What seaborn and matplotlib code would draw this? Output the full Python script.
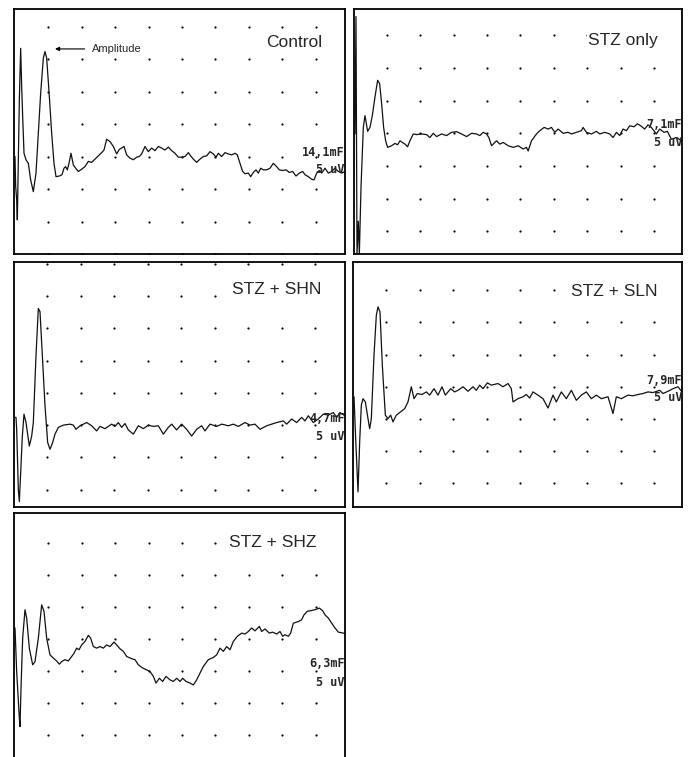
import numpy as np
import seaborn as sns
import matplotlib.pyplot as plt

# === Traces: time (ms) vs amplitude (grid divisions, 5 uV / div) ===
t_control = [0.25, 0.75, 1.5, 2.0, 2.75, 3.5, 4.5, 5.25, 6.0, 7.0, 8.5, 10.25, 12.0, 14.0, 16.0, 17.75, 19.5, 21.5,
             22.75, 24.0, 26.0, 27.75, 29.5, 31.0, 33.5, 35.5, 37.0, 38.25, 39.5, 40.75, 42.25, 44.0, 45.75, 47.75,
             50.25, 52.75, 55.25, 57.75, 60.25, 62.75, 65.25, 67.0, 69.0, 71.5, 74.0, 76.5, 78.5, 80.25, 82.0, 84.0,
             86.5, 89.0, 91.5, 93.5, 95.25, 97.75, 100.25, 102.75, 105.25, 107.75, 110.25, 112.75, 115.25, 117.75,
             120.25, 122.75, 125.25, 127.75, 130.25, 132.0, 134.0, 136.5, 139.0, 141.5, 144.0, 146.5, 149.0, 151.0,
             152.75, 155.25, 157.75, 160.25, 162.75, 165.25, 167.0, 169.0, 171.0, 172.75, 175.25, 177.0, 179.0,
             181.0, 182.75, 184.5, 186.5, 189.0, 191.5, 194.0, 196.0, 198.5, 201.0, 203.5, 206.0, 208.5, 211.0,
             213.5, 216.0, 217.75, 220.25, 222.75, 224.5, 226.5, 228.5, 230.25, 232.75, 235.25, 237.75, 240.25,
             242.75, 245.25, 247.75]
v_control = [3.00, 2.08, 1.67, 1.05, 2.90, 4.74, 6.33, 5.15, 4.23, 3.10, 2.90, 2.79, 2.28, 1.92, 2.49, 3.72, 4.95,
             6.03, 6.23, 6.03, 4.85, 3.72, 2.79, 2.38, 2.40, 2.44, 2.64, 2.69, 2.59, 2.79, 3.10, 2.74, 2.64, 2.54,
             2.61, 2.69, 2.85, 2.82, 2.92, 3.02, 3.12, 3.20, 3.53, 3.46, 3.31, 3.08, 3.22, 3.26, 3.31, 3.05, 2.95,
             2.90, 2.98, 3.00, 3.08, 3.31, 3.15, 3.26, 3.18, 3.31, 3.26, 3.20, 3.29, 3.18, 3.10, 2.98, 2.98, 3.00,
             3.12, 3.02, 2.92, 2.82, 2.92, 3.00, 3.02, 3.15, 3.08, 2.98, 3.10, 3.00, 3.12, 3.08, 3.05, 3.10, 3.05,
             2.79, 2.54, 2.47, 2.49, 2.38, 2.51, 2.59, 2.49, 2.64, 2.59, 2.59, 2.64, 2.79, 2.71, 2.59, 2.57, 2.59,
             2.51, 2.54, 2.40, 2.49, 2.54, 2.44, 2.38, 2.30, 2.28, 2.49, 2.57, 2.49, 2.64, 2.49, 2.54, 2.64, 2.54,
             2.49, 2.54]

t_stz = [1.25, 2.0, 2.75, 3.75, 4.5, 5.75, 7.5, 8.75, 10.75, 12.5, 14.25, 16.25, 18.25, 19.75, 21.25, 22.75, 24.25,
         25.75, 28.75, 31.25, 33.25, 35.0, 38.75, 40.75, 42.5, 45.0, 47.5, 51.25, 55.0, 57.5, 60.0, 62.5, 66.25,
         70.0, 73.75, 77.5, 81.25, 85.0, 88.75, 92.5, 95.0, 97.5, 100.0, 101.75, 103.75, 107.5, 110.0, 112.5,
         116.25, 120.0, 123.75, 127.5, 130.0, 131.25, 133.75, 137.5, 140.0, 143.25, 146.25, 148.75, 151.25, 153.75,
         157.5, 161.25, 163.75, 167.5, 171.25, 172.5, 175.0, 178.75, 182.5, 185.0, 188.75, 192.5, 195.0, 197.5,
         200.0, 202.5, 205.0, 207.5, 210.75, 213.25, 215.75, 218.75, 221.25, 223.75, 227.5, 230.0, 233.25, 235.75,
         238.75, 242.5, 246.75]
v_stz = [3.98, 7.57, 0.29, 1.31, 0.29, 2.34, 4.18, 4.54, 4.06, 4.18, 4.54, 5.11, 5.62, 5.52, 4.90, 4.18, 3.77, 3.57,
         3.62, 3.69, 3.65, 3.77, 3.67, 3.59, 3.77, 3.98, 3.96, 3.98, 3.96, 3.87, 4.00, 3.90, 3.98, 3.93, 4.03, 4.05,
         3.98, 3.90, 4.00, 3.98, 3.93, 4.03, 3.98, 3.87, 3.62, 3.77, 3.67, 3.72, 3.62, 3.57, 3.62, 3.52, 3.57, 3.46,
         3.77, 3.98, 4.08, 4.18, 4.13, 4.18, 4.03, 4.13, 4.00, 4.03, 3.98, 4.03, 4.08, 4.18, 4.03, 3.98, 4.06, 3.98,
         4.03, 3.98, 3.87, 4.03, 3.93, 4.13, 4.08, 4.23, 4.20, 4.29, 4.23, 4.13, 4.26, 4.18, 3.98, 4.13, 4.03, 4.06,
         3.82, 3.87, 3.77]

t_shn = [0, 1.5, 2, 3.25, 4, 5, 6.25, 7.5, 9, 11.5, 13.25, 14.5, 16.5, 18.25, 19.5, 21.25, 23.25, 25.25, 27, 29,
         30.75, 33.25, 37, 42, 44.5, 46.5, 49.5, 54.5, 58.25, 62, 64.5, 68.25, 73.25, 75.75, 78.25, 80.75, 83.25,
         85.75, 89.5, 93.25, 97, 100.75, 104.5, 108.25, 112, 115.75, 118.25, 122, 125.75, 129.5, 133.25, 137,
         140.75, 143.25, 147, 152, 155.75, 160.75, 164.5, 168.25, 173.25, 177, 180.75, 184.5, 189.5, 193.25, 197,
         202, 204.5, 208.25, 212, 215.75, 218.25, 220.75, 224.5, 228.25, 232, 235.75, 239.5, 242, 244.5, 248.25]
v_shn = [3.24, 3.24, 2.87, 1.00, 0.63, 1.52, 2.66, 3.34, 3.08, 2.35, 2.66, 3.08, 5.16, 6.62, 6.52, 5.16, 3.60, 2.46,
         2.25, 2.46, 2.72, 2.93, 3.00, 3.03, 3.00, 2.87, 2.98, 3.08, 2.98, 2.82, 2.96, 2.89, 3.03, 2.96, 3.08, 2.93,
         3.05, 2.85, 2.72, 2.98, 2.89, 3.00, 2.96, 2.98, 2.72, 2.93, 3.03, 2.85, 3.03, 2.87, 2.66, 2.87, 2.98, 2.82,
         3.03, 2.96, 3.03, 2.98, 3.03, 2.96, 3.08, 3.00, 3.03, 2.87, 2.98, 3.03, 3.08, 3.13, 3.03, 3.19, 3.08, 3.24,
         3.13, 3.29, 3.08, 3.19, 3.34, 3.31, 3.39, 3.24, 3.39, 3.29]

t_sln = [0.75, 2, 3.75, 5, 6.25, 7.5, 9.25, 11.25, 12.5, 13.75, 15.75, 17.5, 18.75, 20.25, 22, 24.25, 26.25, 28.25,
         30, 32.5, 36.25, 38.75, 41.25, 43.75, 45.75, 48.25, 51.75, 55, 57.5, 60.75, 63.75, 66.75, 69.25, 73.25,
         76.25, 78.75, 82.5, 86.25, 90, 92.5, 95, 97.5, 100.75, 103.75, 108.75, 112.5, 116.25, 118.75, 120, 123.75,
         127.5, 130, 132.5, 135, 138.75, 142.5, 146.25, 150, 152.5, 156.25, 160, 163.75, 167.5, 171.25, 175, 178.75,
         182.5, 186.25, 191.25, 195, 197.5, 201.25, 206.25, 210, 213.75, 217.5, 221.25, 225, 230, 232.5, 236.25,
         240, 243.75, 246.75]
v_sln = [3.69, 2.39, 0.74, 2.29, 3.43, 3.63, 3.53, 3.01, 2.70, 3.01, 4.98, 6.22, 6.48, 6.32, 4.67, 3.12, 3.01, 3.12,
         2.91, 3.12, 3.24, 3.32, 3.53, 4.00, 3.63, 3.79, 3.76, 3.84, 3.74, 3.94, 3.74, 4.00, 3.74, 3.94, 3.84, 3.89,
         4.00, 3.86, 4.00, 3.89, 4.05, 3.94, 4.12, 4.05, 4.10, 4.00, 4.10, 3.94, 3.53, 3.63, 3.69, 3.76, 3.65, 3.84,
         3.74, 3.63, 3.34, 3.74, 3.53, 3.84, 3.63, 3.89, 3.58, 3.74, 3.84, 3.63, 3.74, 3.63, 3.69, 3.17, 3.69, 3.63,
         3.74, 3.72, 3.76, 3.79, 3.84, 3.82, 3.89, 3.79, 3.86, 3.94, 4.00, 3.84]

t_shz = [0.25, 1.5, 3.5, 4, 4.75, 6, 7.75, 9, 11, 13.5, 15.25, 17.75, 20.25, 22, 24, 26.5, 29, 31.5, 33.5, 35.25,
         37.75, 40.25, 42.75, 44.5, 46.5, 48.25, 50.25, 52.75, 55.25, 57, 59, 61.5, 64, 66.5, 69, 71.5, 74.5, 76.5,
         79, 81.5, 84, 87.75, 90.25, 92.75, 96, 99, 101.5, 104, 106, 108.5, 111, 113.5, 116.5, 119, 121.5, 124, 126,
         128.5, 131.5, 134, 136.5, 139, 141.5, 145.25, 149, 151.5, 154, 156.5, 159, 161.5, 164, 167, 170.25, 172.75,
         175.25, 177.75, 180.25, 183.5, 185.25, 187.75, 191, 193.5, 196.5, 199, 201, 202.75, 205.25, 207, 209,
         212.75, 215.25, 217, 219.5, 222, 225.25, 228.5, 231, 232.75, 235.25, 237.75, 240.25, 242.75, 246.5, 249]
v_shz = [4.34, 2.98, 1.52, 1.26, 2.46, 4.02, 4.91, 4.65, 3.71, 3.19, 3.29, 4.02, 5.06, 4.86, 4.02, 3.50, 3.40, 3.31,
         3.21, 3.29, 3.35, 3.31, 3.45, 3.55, 3.71, 3.66, 3.81, 3.92, 4.11, 4.02, 3.76, 3.71, 3.76, 3.71, 3.81, 3.76,
         3.90, 3.81, 3.69, 3.61, 3.45, 3.38, 3.35, 3.19, 3.09, 3.03, 2.98, 2.83, 2.62, 2.77, 2.67, 2.83, 2.72, 2.67,
         2.77, 2.67, 2.77, 2.67, 2.62, 2.56, 2.72, 2.93, 3.14, 3.35, 3.42, 3.50, 3.71, 3.61, 3.76, 3.66, 3.92, 4.08,
         4.18, 4.15, 4.23, 4.34, 4.25, 4.39, 4.23, 4.31, 4.18, 4.21, 4.15, 4.23, 4.08, 4.13, 4.08, 4.18, 4.49, 4.54,
         4.60, 4.75, 4.86, 4.88, 4.91, 4.96, 4.88, 4.75, 4.65, 4.49, 4.34, 4.21, 4.18, 4.18]

labels = ["Control", "STZ only", "STZ + SHN", "STZ + SLN", "STZ + SHZ"]
sweeps = ["14,1mF", "7,1mF", "4,7mF", "7,9mF", "6,3mF"]
gain = "5 uV"

# === Layout (pixel boxes of the original prints) ===
W, H = 689, 757
DIV_MS = 25.1
panels = [
    dict(t=t_control, v=v_control, box=(14, 9, 345, 254), xlim=(-0.5, 247.75), ylim=(0.0, 7.54),
         lab=(0.930, 0.865), sw=(0.416, 0.343)),
    dict(t=t_stz, v=v_stz, box=(354, 9, 682, 254), xlim=(0.5, 246.75), ylim=(0.31, 7.80),
         lab=(0.927, 0.873), sw=(0.527, 0.457)),
    dict(t=t_shn, v=v_shn, box=(14, 262, 345, 507), xlim=(0.0, 248.25), ylim=(0.46, 8.06),
         lab=(0.930, 0.886), sw=(0.363, 0.286)),
    dict(t=t_sln, v=v_sln, box=(353, 262, 682, 507), xlim=(0.0, 246.75), ylim=(0.27, 7.87),
         lab=(0.927, 0.878), sw=(0.518, 0.445)),
    dict(t=t_shz, v=v_shz, box=(14, 513, 345, 758), xlim=(-0.5, 247.75), ylim=(0.28, 7.93),
         lab=(0.915, 0.878), sw=(0.384, 0.310)),
]

sns.set_style("white")
plt.rcParams['font.family'] = ['Liberation Sans', 'DejaVu Sans']

fig = plt.figure(figsize=(W / 100, H / 100), dpi=100)

gx, gy = np.meshgrid(DIV_MS * np.arange(1, 10), np.arange(0, 9))
blank = dict(facecolor="white", edgecolor="none", pad=1.0)

for i, p in enumerate(panels):
    x0, y0, x1, y1 = p["box"]
    ax = fig.add_axes([x0 / W, 1 - y1 / H, (x1 - x0) / W, (y1 - y0) / H])

    # dotted graticule
    sns.scatterplot(x=gx.ravel(), y=gy.ravel(), s=2.5, color="k", linewidth=0, ax=ax, legend=False)
    # trace
    sns.lineplot(x=p["t"], y=p["v"], color="#111111", lw=0.9, estimator=None, sort=False, ax=ax, legend=False)

    ax.set_xlim(*p["xlim"])
    ax.set_ylim(*p["ylim"])
    ax.set_xticks([])
    ax.set_yticks([])
    ax.set_xlabel("")
    ax.set_ylabel("")
    for s in ax.spines.values():
        s.set_color("black")
        s.set_linewidth(1.3)
    if i == 4:
        ax.spines["bottom"].set_visible(False)

    ax.text(p["lab"][0], p["lab"][1], labels[i], transform=ax.transAxes, ha="right", va="center",
            fontsize=12.5, bbox=blank)
    ax.text(1.0, p["sw"][0], sweeps[i], transform=ax.transAxes, ha="right", va="center",
            family="DejaVu Sans Mono", weight="bold", fontsize=8.5)
    ax.text(1.0, p["sw"][1], gain, transform=ax.transAxes, ha="right", va="center",
            family="DejaVu Sans Mono", weight="bold", fontsize=8.5)

    if i == 0:
        ax.annotate("Amplitude", xy=(0.124, 0.837), xytext=(0.236, 0.837),
                    xycoords="axes fraction", textcoords="axes fraction", ha="left", va="center", fontsize=8,
                    arrowprops=dict(arrowstyle="-|>", color="k", lw=0.8, mutation_scale=6, shrinkA=3, shrinkB=0))

fig.savefig("out.png", dpi=100)
